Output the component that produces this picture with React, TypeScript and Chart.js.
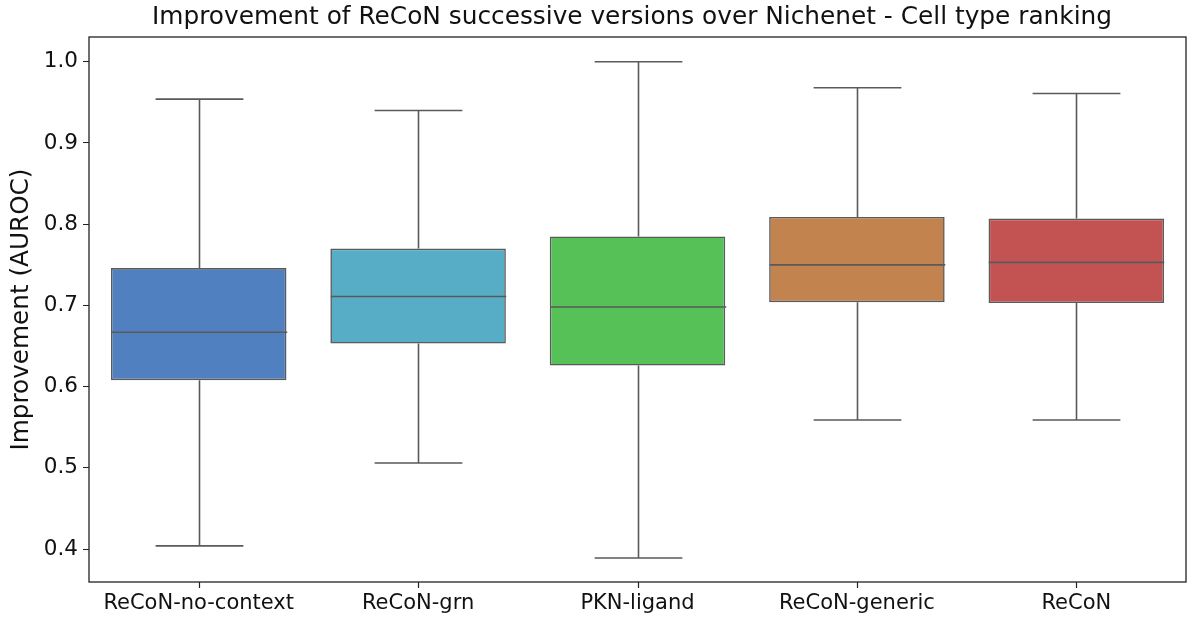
import React, { useEffect, useRef } from "react";
import { Chart, registerables } from "chart.js";

Chart.register(...registerables);

const categories = ["ReCoN-no-context", "ReCoN-grn", "PKN-ligand", "ReCoN-generic", "ReCoN"];
const whiskerLow = [0.404, 0.506, 0.389, 0.559, 0.559];
const q1 = [0.608, 0.653, 0.626, 0.704, 0.703];
const median = [0.667, 0.711, 0.698, 0.750, 0.753];
const q3 = [0.746, 0.770, 0.785, 0.809, 0.807];
const whiskerHigh = [0.954, 0.940, 1.0, 0.968, 0.961];
const boxColors = ["#5180c0", "#57adc6", "#56c157", "#c3834f", "#c25352"];
const yTickValues = [0.4, 0.5, 0.6, 0.7, 0.8, 0.9, 1.0];
const titleText = "Improvement of ReCoN successive versions over Nichenet - Cell type ranking";

const FONT = "'DejaVu Sans', sans-serif";
const LINE = "#5a5a5a";

// Whiskers, caps, medians, x tick marks, the four-sided frame and the title
const boxPlotExtras = {
  id: "boxPlotExtras",
  afterDatasetsDraw(chart: any) {
    const { ctx, chartArea, scales } = chart;
    const x = scales.x;
    const y = scales.y;
    const catW = (chartArea.right - chartArea.left) / categories.length;
    const boxHalf = catW * 0.4;
    const capHalf = catW * 0.2;
    ctx.save();
    ctx.strokeStyle = LINE;
    ctx.lineWidth = 1.6;
    ctx.lineCap = "butt";
    categories.forEach((_, i) => {
      const cx = Math.round(x.getPixelForValue(i)) + 0.5;
      const yLo = y.getPixelForValue(whiskerLow[i]);
      const yQ1 = y.getPixelForValue(q1[i]);
      const yMed = y.getPixelForValue(median[i]);
      const yQ3 = y.getPixelForValue(q3[i]);
      const yHi = y.getPixelForValue(whiskerHigh[i]);
      ctx.beginPath();
      ctx.moveTo(cx, yQ3);
      ctx.lineTo(cx, yHi);
      ctx.moveTo(cx - capHalf, yHi);
      ctx.lineTo(cx + capHalf, yHi);
      ctx.moveTo(cx, yQ1);
      ctx.lineTo(cx, yLo);
      ctx.moveTo(cx - capHalf, yLo);
      ctx.lineTo(cx + capHalf, yLo);
      ctx.moveTo(cx - boxHalf, yMed);
      ctx.lineTo(cx + boxHalf, yMed);
      ctx.stroke();
    });

    ctx.strokeStyle = "#222222";
    ctx.lineWidth = 1.2;
    ctx.beginPath();
    categories.forEach((_, i) => {
      const cx = Math.round(x.getPixelForValue(i)) + 0.5;
      ctx.moveTo(cx, chartArea.bottom);
      ctx.lineTo(cx, chartArea.bottom + 6);
    });
    ctx.stroke();

    ctx.lineWidth = 1.3;
    ctx.strokeRect(chartArea.left, chartArea.top, chartArea.right - chartArea.left, chartArea.bottom - chartArea.top);

    ctx.fillStyle = "#111111";
    ctx.font = `24.8px ${FONT}`;
    ctx.textAlign = "center";
    ctx.textBaseline = "middle";
    ctx.fillText(titleText, 632, 18);
    ctx.restore();
  },
};

export default function App() {
  const ref = useRef<HTMLCanvasElement | null>(null);

  useEffect(() => {
    if (!ref.current) return;
    const chart = new Chart(ref.current, {
      type: "bar",
      data: {
        labels: categories,
        datasets: [
          {
            label: "IQR",
            data: categories.map((_, i) => [q1[i], q3[i]]) as any,
            backgroundColor: boxColors,
            borderColor: LINE,
            borderWidth: 1.6,
            borderSkipped: false,
            barPercentage: 0.8,
            categoryPercentage: 1.0,
          },
        ],
      },
      plugins: [boxPlotExtras],
      options: {
        animation: false,
        responsive: false,
        maintainAspectRatio: false,
        layout: { padding: { left: 0, right: 1, top: 37, bottom: 0 } },
        plugins: {
          legend: { display: false },
          tooltip: { enabled: false },
          title: { display: false },
        },
        scales: {
          x: {
            offset: true,
            grid: { display: false, drawTicks: false },
            border: { display: false },
            ticks: { color: "#111111", font: { family: FONT, size: 21 }, padding: 9, maxRotation: 0, autoSkip: false },
            afterFit: (s: any) => { s.height = 35; },
          },
          y: {
            min: 0.3595,
            max: 1.0305,
            grid: { display: true, drawOnChartArea: false, drawTicks: true, tickLength: 6, color: "#222222" },
            border: { display: false },
            afterBuildTicks: (s: any) => { s.ticks = yTickValues.map((v) => ({ value: v })); },
            ticks: {
              color: "#111111",
              font: { family: FONT, size: 21.5 },
              padding: 5,
              callback: (v: any) => Number(v).toFixed(1),
            },
            title: {
              display: true,
              text: "Improvement (AUROC)",
              color: "#111111",
              font: { family: FONT, size: 24.7, lineHeight: 1.2 },
              padding: { top: 7, bottom: 0 },
            },
            afterFit: (s: any) => { s.width = 89; },
          },
        },
      },
    });
    return () => chart.destroy();
  }, []);

  return (
    <div style={{ position: "absolute", left: 0, top: 0, width: 1187, height: 617, background: "#ffffff" }}>
      <canvas ref={ref} width={1187} height={617} style={{ display: "block" }} />
    </div>
  );
}
